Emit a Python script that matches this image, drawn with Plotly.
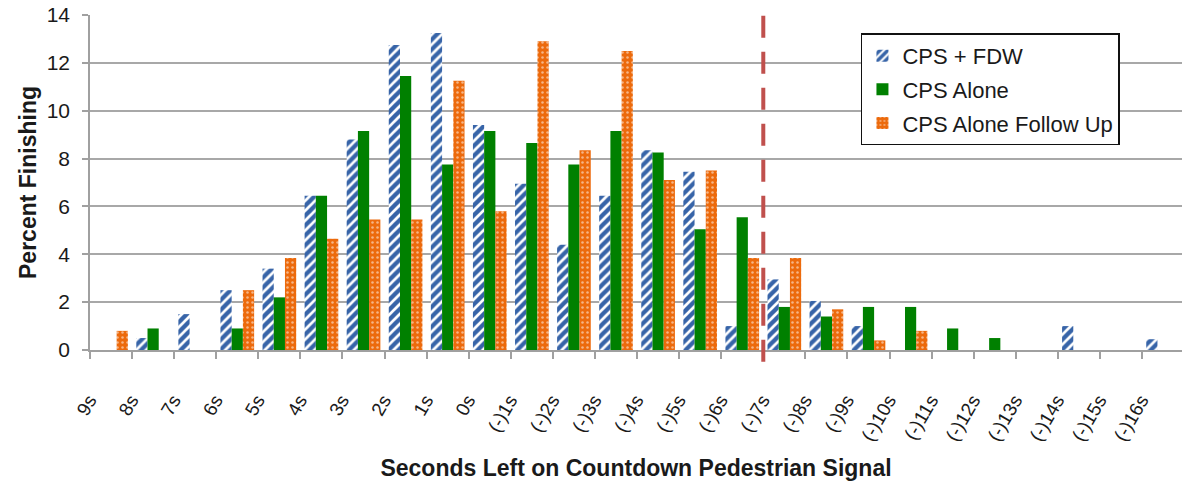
import plotly.graph_objects as go

categories = ["9s", "8s", "7s", "6s", "5s", "4s", "3s", "2s", "1s", "0s",
              "(-)1s", "(-)2s", "(-)3s", "(-)4s", "(-)5s", "(-)6s", "(-)7s", "(-)8s",
              "(-)9s", "(-)10s", "(-)11s", "(-)12s", "(-)13s", "(-)14s", "(-)15s", "(-)16s"]

cps_fdw = [0, 0.5, 1.5, 2.5, 3.4, 6.45, 8.8, 12.75, 13.25, 9.4,
           6.95, 4.4, 6.45, 8.35, 7.45, 1.0, 2.95, 2.05,
           1.0, 0, 0, 0, 0, 1.0, 0, 0.45]
cps_alone = [0, 0.9, 0, 0.9, 2.2, 6.45, 9.15, 11.45, 7.75, 9.15,
             8.65, 7.75, 9.15, 8.25, 5.05, 5.55, 1.8, 1.4,
             1.8, 1.8, 0.9, 0.5, 0, 0, 0, 0]
cps_follow = [0.8, 0, 0, 2.5, 3.85, 4.65, 5.45, 5.45, 11.25, 5.8,
              12.9, 8.35, 12.5, 7.1, 7.5, 3.85, 3.85, 1.7,
              0.4, 0.8, 0, 0, 0, 0, 0, 0]

series_names = ["CPS + FDW", "CPS Alone", "CPS Alone Follow Up"]
y_ticks = [0, 2, 4, 6, 8, 10, 12, 14]
signal_end_position = 15.5  # boundary between (-)6s and (-)7s

FONT = "Liberation Sans"
TXT = "#1a1a1a"

fig = go.Figure()
fig.add_trace(go.Bar(
    x=categories, y=cps_fdw, name=series_names[0], legendgroup="a",
    marker=dict(color="white", line=dict(width=0),
                pattern=dict(shape="/", fgcolor="#3764A8", bgcolor="white",
                             size=7, solidity=0.62, fgopacity=1)),
))
fig.add_trace(go.Bar(
    x=categories, y=cps_alone, name=series_names[1], legendgroup="b",
    marker=dict(color="#008000", line=dict(width=0)),
))
fig.add_trace(go.Bar(
    x=categories, y=cps_follow, name=series_names[2], legendgroup="c",
    marker=dict(color="#EC6A0C", line=dict(width=0),
                pattern=dict(shape=".", fgcolor="white", bgcolor="#EC6A0C",
                             size=5, solidity=0.2)),
))

fig.add_shape(type="line", xref="x", yref="paper",
              x0=signal_end_position, x1=signal_end_position, y0=-0.035, y1=1,
              line=dict(color="#C0504D", width=4, dash="22px,14px"))

fig.update_layout(
    width=1182, height=486,
    margin=dict(l=90, r=0, t=15, b=136),
    paper_bgcolor="white", plot_bgcolor="white",
    barmode="group", bargap=0.2, bargroupgap=0,
    font=dict(family=FONT, color=TXT),
    showlegend=True,
    legend=dict(x=0.706, y=0.945, xanchor="left", yanchor="top",
                bgcolor="white", bordercolor="#111111", borderwidth=1.5,
                font=dict(family=FONT, size=22, color=TXT),
                traceorder="grouped", tracegroupgap=2, itemsizing="constant"),
)
fig.update_xaxes(
    type="category", range=[-0.5, 25.45],
    showline=True, linecolor="#A0A0A0", linewidth=1.5,
    ticks="outside", tickson="boundaries", ticklen=7, tickcolor="#A0A0A0", tickwidth=1.5,
    tickangle=-60, tickfont=dict(family=FONT, size=19, color=TXT),
    ticklabelstandoff=30, ticklabelshift=-22,
    title=dict(text="<b>Seconds Left on Countdown Pedestrian Signal</b>",
               font=dict(family=FONT, size=23, color=TXT), standoff=16),
    showgrid=False,
)
fig.update_yaxes(
    range=[0, 14], tickvals=y_ticks,
    showline=True, linecolor="#A0A0A0", linewidth=1.5,
    ticks="outside", ticklen=6, tickcolor="#A0A0A0", tickwidth=1.5,
    tickfont=dict(family=FONT, size=21, color=TXT), ticklabelstandoff=8,
    showgrid=True, gridcolor="#A8A8A8", gridwidth=1.5,
    title=dict(text="<b>Percent Finishing</b>",
               font=dict(family=FONT, size=23, color=TXT), standoff=4),
    zeroline=False,
)

fig.write_html("out.html")
